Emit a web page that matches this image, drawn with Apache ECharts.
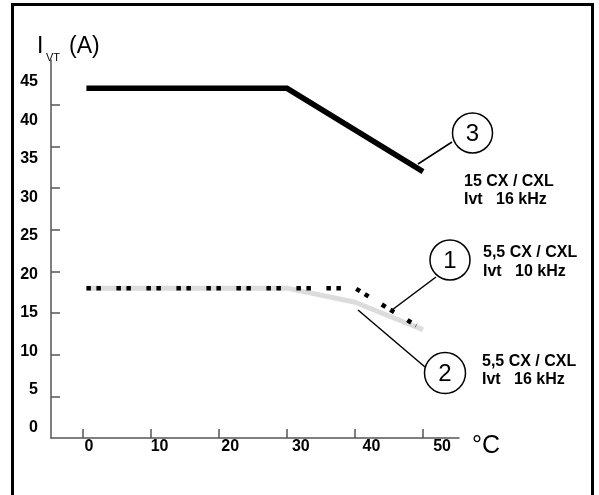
<!DOCTYPE html>
<html>
<head>
<meta charset="utf-8">
<script src="https://cdn.jsdelivr.net/npm/echarts@6/dist/echarts.min.js"></script>
<style>
  html, body { margin: 0; padding: 0; background: #fff; }
  #chart { width: 599px; height: 495px; }
</style>
</head>
<body>
<div id="chart"></div>
<script>
// temperatures (°C) and currents (A)
const tempLine3 = [0.5, 30, 50];
const ivtLine3 = [42, 42, 32];
const tempLine1 = [0.5, 40, 49];
const ivtLine1 = [18, 18, 13.5];
const tempLine2 = [0.5, 30, 40, 50];
const ivtLine2 = [18, 18, 16.3, 13];

const xTicks = [0, 10, 20, 30, 40, 50];
const yTicks = [5, 10, 15, 20, 25, 30, 35, 40];
const yLabels = [0, 5, 10, 15, 20, 25, 30, 35, 40, 45];

const pairs = (xs, ys) => xs.map((x, i) => [x, ys[i]]);

const FONT = 'Liberation Sans, Arial, sans-serif';
const AXIS = '#555';

window.onload = () => {
    const chart = echarts.init(document.getElementById('chart'));
    const option = {
        animation: false,
        grid: { left: 51, right: 140, top: 60, bottom: 57 },
        xAxis: [{
            type: 'value', min: -4.706, max: 55.29, position: 'bottom',
            axisLine: { onZero: false, lineStyle: { color: AXIS, width: 1.5 } },
            axisTick: { show: true, inside: true, length: 9, customValues: xTicks, lineStyle: { color: AXIS, width: 1.5 } },
            axisLabel: { show: false },
            splitLine: { show: false }
        }, {
            // labels sit a little off the ticks in the original
            type: 'value', min: -5.38, max: 52.4, position: 'bottom',
            axisLine: { show: false, onZero: false },
            axisTick: { show: false },
            axisLabel: { customValues: xTicks, margin: 1, color: '#000', fontFamily: FONT, fontWeight: 'bold', fontSize: 16 },
            splitLine: { show: false }
        }],
        yAxis: [{
            type: 'value', min: 0, max: 45.4, position: 'left',
            axisLine: { show: true, onZero: false, lineStyle: { color: AXIS, width: 1.5 } },
            axisTick: { show: true, inside: true, length: 9, customValues: yTicks, lineStyle: { color: AXIS, width: 1.5 } },
            axisLabel: { show: false },
            splitLine: { show: false }
        }, {
            type: 'value', min: -1.3, max: 47.85, position: 'left',
            axisLine: { show: false, onZero: false },
            axisTick: { show: false },
            axisLabel: { customValues: yLabels, margin: 13, color: '#000', fontFamily: FONT, fontWeight: 'bold', fontSize: 16 },
            splitLine: { show: false }
        }],
        series: [{
            name: '2', type: 'line', symbol: 'none',
            lineStyle: { color: '#dcdcdc', width: 5, cap: 'butt' },
            data: pairs(tempLine2, ivtLine2)
        }, {
            name: '1', type: 'line', symbol: 'none',
            lineStyle: { color: '#000', width: 4.5, type: [4.5, 5.5, 4.5, 15.5], cap: 'butt' },
            data: pairs(tempLine1, ivtLine1)
        }, {
            name: '3', type: 'line', symbol: 'none',
            lineStyle: { color: '#000', width: 5.5, cap: 'butt', join: 'miter' },
            data: pairs(tempLine3, ivtLine3)
        }],
        graphic: [
            // frame
            { type: 'rect', shape: { x: 12.5, y: 4.5, width: 580, height: 520 }, style: { fill: 'none', stroke: '#000', lineWidth: 3 } },
            // axis titles
            { type: 'text', style: { x: 37, y: 47, text: 'I', font: '23px ' + FONT, fill: '#000', verticalAlign: 'middle' } },
            { type: 'text', style: { x: 46, y: 58, text: 'VT', font: '11px ' + FONT, fill: '#000', verticalAlign: 'middle' } },
            { type: 'text', style: { x: 69, y: 47, text: '(A)', font: '23px ' + FONT, fill: '#000', verticalAlign: 'middle' } },
            { type: 'text', style: { x: 472, y: 446, text: '°C', font: '25px ' + FONT, fill: '#000', verticalAlign: 'middle' } },
            // callout 3
            { type: 'circle', shape: { cx: 472.5, cy: 133, r: 20 }, style: { fill: '#fff', stroke: '#000', lineWidth: 1.5 } },
            { type: 'text', style: { x: 472.5, y: 134, text: '3', font: '24px ' + FONT, fill: '#000', align: 'center', verticalAlign: 'middle' } },
            { type: 'line', shape: { x1: 452, y1: 142, x2: 418, y2: 164 }, style: { stroke: '#000', lineWidth: 1.5 } },
            { type: 'text', style: { x: 464, y: 182, text: '15 CX / CXL', font: 'bold 16px ' + FONT, fill: '#000', verticalAlign: 'middle' } },
            { type: 'text', style: { x: 464, y: 200, text: 'Ivt   16 kHz', font: 'bold 16px ' + FONT, fill: '#000', verticalAlign: 'middle' } },
            // callout 1
            { type: 'circle', shape: { cx: 450, cy: 260, r: 20 }, style: { fill: '#fff', stroke: '#000', lineWidth: 1.5 } },
            { type: 'text', style: { x: 450, y: 261, text: '1', font: '24px ' + FONT, fill: '#000', align: 'center', verticalAlign: 'middle' } },
            { type: 'line', shape: { x1: 436, y1: 277, x2: 392, y2: 310 }, style: { stroke: '#000', lineWidth: 1.5 } },
            { type: 'text', style: { x: 483, y: 253, text: '5,5 CX / CXL', font: 'bold 16px ' + FONT, fill: '#000', verticalAlign: 'middle' } },
            { type: 'text', style: { x: 483, y: 272, text: 'Ivt   10 kHz', font: 'bold 16px ' + FONT, fill: '#000', verticalAlign: 'middle' } },
            // callout 2
            { type: 'circle', shape: { cx: 445, cy: 373, r: 20.5 }, style: { fill: '#fff', stroke: '#000', lineWidth: 1.5 } },
            { type: 'text', style: { x: 445, y: 374, text: '2', font: '24px ' + FONT, fill: '#000', align: 'center', verticalAlign: 'middle' } },
            { type: 'line', shape: { x1: 425, y1: 367, x2: 358, y2: 310 }, style: { stroke: '#000', lineWidth: 1.5 } },
            { type: 'text', style: { x: 482, y: 362, text: '5,5 CX / CXL', font: 'bold 16px ' + FONT, fill: '#000', verticalAlign: 'middle' } },
            { type: 'text', style: { x: 482, y: 380, text: 'Ivt   16 kHz', font: 'bold 16px ' + FONT, fill: '#000', verticalAlign: 'middle' } }
        ]
    };
    chart.setOption(option);
};
</script>
</body>
</html>
